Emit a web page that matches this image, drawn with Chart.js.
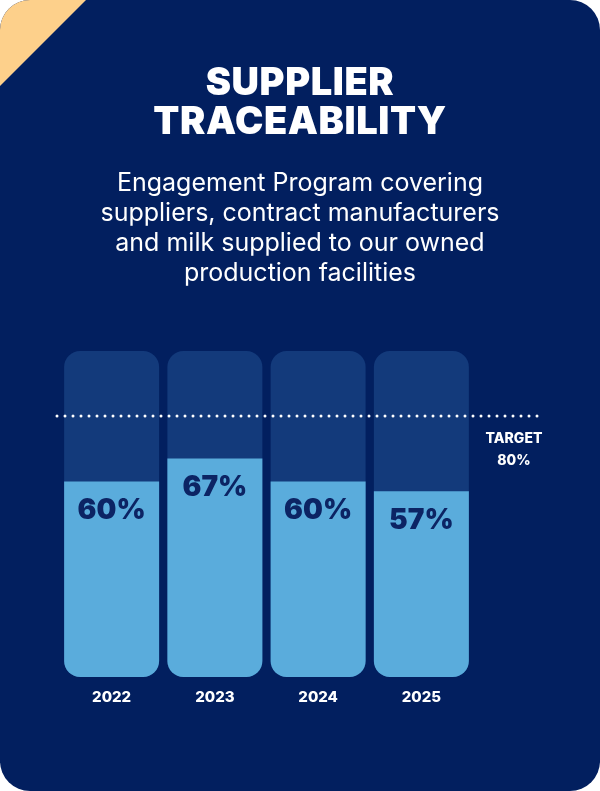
<!DOCTYPE html>
<html><head><meta charset="utf-8">
<script src="https://cdn.jsdelivr.net/npm/chart.js@4"></script>
<style>
html,body{margin:0;padding:0;background:#ffffff;}
#card{position:relative;width:600px;height:791px;background:#021f5f;border-radius:30px;overflow:hidden;}
#corner{position:absolute;left:0;top:0;width:86px;height:86px;background:#fdd08b;clip-path:polygon(0 0,100% 0,0 100%);}
#title{position:absolute;left:0;top:62px;width:600px;text-align:center;color:#fff;font-family:Inter,"DejaVu Sans",sans-serif;font-weight:900;font-size:38px;line-height:39px;letter-spacing:0.6px;}
#sub{position:absolute;left:0;top:167px;width:600px;text-align:center;color:#fff;font-family:Inter,"Open Sans",sans-serif;font-weight:400;font-size:25px;line-height:30px;}
#c{position:absolute;left:0;top:0;}
</style></head><body>
<div id="card">
<div id="corner"></div>
<canvas id="c" width="600" height="791"></canvas>
<div id="title">SUPPLIER<br>TRACEABILITY</div>
<div id="sub">Engagement Program covering<br>suppliers, contract manufacturers<br>and milk supplied to our owned<br>production facilities</div>
</div>
<script>
const years = ["2022","2023","2024","2025"];
const values = [60,67,60,57];
const fullScale = [100,100,100,100];
const targetValue = 80;
const targetLabel = ["TARGET","80%"];

const overlayPlugin = {
  id:'overlay',
  afterDatasetsDraw(chart){
    const ctx = chart.ctx;
    const y = chart.scales.y;
    const meta = chart.getDatasetMeta(1);
    ctx.save();
    ctx.fillStyle = '#0c2464';
    ctx.font = '900 28px Inter, "DejaVu Sans", sans-serif';
    ctx.textAlign = 'center';
    ctx.textBaseline = 'middle';
    meta.data.forEach((bar,i)=>{
      ctx.fillText(values[i]+'%', bar.x, bar.y + 29);
    });
    const ty = Math.round(y.getPixelForValue(targetValue));
    ctx.fillStyle = '#ffffff';
    for(let x = chart.chartArea.left - 3; x <= 543; x += 8){
      ctx.beginPath();
      ctx.arc(x, ty, 1.5, 0, Math.PI*2);
      ctx.fill();
    }
    ctx.font = '800 14px Inter, "DejaVu Sans", sans-serif';
    ctx.fillText(targetLabel[0], 514, ty + 23);
    ctx.fillText(targetLabel[1], 514, ty + 45);
    ctx.restore();
  }
};

new Chart(document.getElementById('c'),{
  type:'bar',
  data:{
    labels: years,
    datasets:[
      {data: fullScale, backgroundColor:'#133a7b', borderRadius:16, borderSkipped:false, grouped:false, barPercentage:0.92, categoryPercentage:1, order:2},
      {data: values, backgroundColor:'#5aacdc', borderRadius:{topLeft:0,topRight:0,bottomLeft:16,bottomRight:16}, borderSkipped:false, grouped:false, barPercentage:0.92, categoryPercentage:1, order:1}
    ]
  },
  options:{
    responsive:false, animation:false,
    layout:{padding:{left:60,right:127,top:351,bottom:70}},
    plugins:{legend:{display:false},tooltip:{enabled:false}},
    scales:{
      y:{display:false,min:0,max:100},
      x:{grid:{display:false,drawTicks:false},border:{display:false},
         afterFit(s){s.height = 44;},
         ticks:{color:'#ffffff',padding:11,font:{family:'Inter, "DejaVu Sans", sans-serif',weight:'800',size:15}}}
    }
  },
  plugins:[overlayPlugin]
});
</script>
</body></html>
